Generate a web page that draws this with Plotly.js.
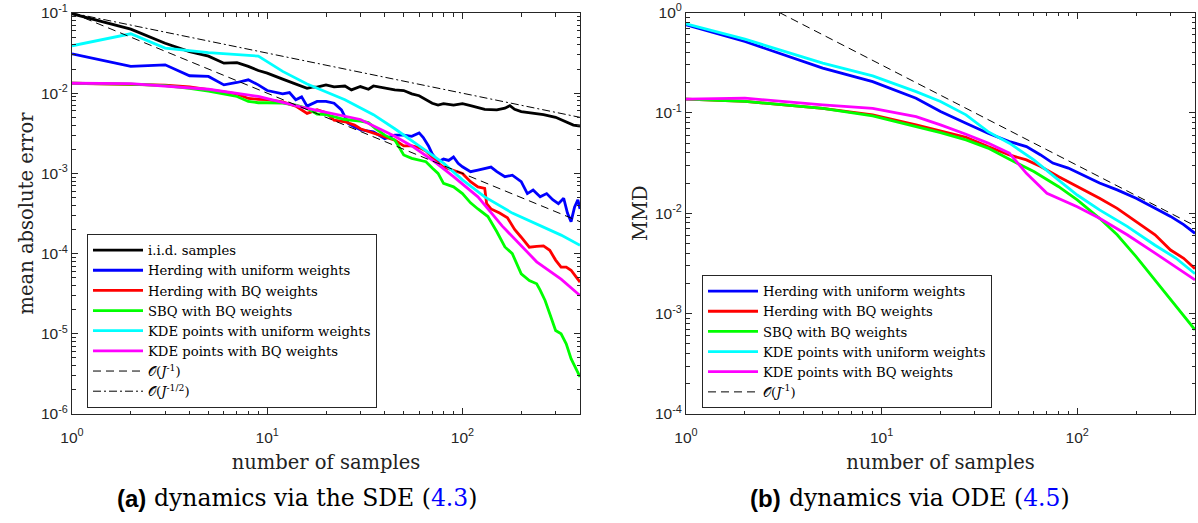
<!DOCTYPE html>
<html>
<head>
<meta charset="utf-8">
<script src="https://cdn.plot.ly/plotly-3.0.1.min.js"></script>
<style>html,body{margin:0;padding:0;background:#fff}#chart{width:1198px;height:523px}</style>
</head>
<body>
<div id="chart"></div>
<script>
// ---------- (a) SDE panel data ----------
const iidX = [1,2,3,4,5,6,7,8,9,10,12,14,16,17,18,20,22,25,27,30,33,35,40,45,50,55,60,65,70,75,80,90,100,110,120,130,150,165,175,185,200,230,260,300,340,370,400];
const iidY = [0.098,0.063,0.042,0.033,0.029,0.0237,0.024,0.0216,0.0192,0.0178,0.015,0.0131,0.0115,0.0119,0.0119,0.0127,0.012,0.0123,0.011,0.0121,0.0112,0.0123,0.0115,0.011,0.0108,0.0098,0.0093,0.0084,0.0075,0.0071,0.0074,0.0071,0.0074,0.007,0.0067,0.0063,0.0062,0.0065,0.007,0.0063,0.0059,0.0056,0.0054,0.005,0.0044,0.004,0.0039];

const herdUX = [1,2,3,4,5,6,7,8,9,10,12,13,14,15,16,18,20,22,24,26,28,30,35,40,45,50,55,60,63,67,70,75,80,85,90,95,100,110,120,130,140,150,165,180,200,215,230,250,270,290,310,330,345,360,375,390,400];
const herdUY = [0.031,0.0216,0.0226,0.0165,0.0162,0.0127,0.0136,0.0147,0.0127,0.0108,0.0098,0.0102,0.0083,0.009,0.0069,0.0079,0.0079,0.0075,0.0062,0.0042,0.0038,0.0035,0.0033,0.0027,0.003,0.003,0.0029,0.0032,0.0028,0.0022,0.00175,0.0014,0.00151,0.00145,0.0016,0.00134,0.00121,0.00105,0.0011,0.00115,0.0012,0.00105,0.00091,0.00095,0.00079,0.00056,0.00062,0.00051,0.00056,0.00047,0.00042,0.00049,0.00032,0.00025,0.00038,0.00047,0.00036];

const herdBX = [1,2,3,4,5,6,7,8,9,10,12,14,16,18,20,22,25,28,30,35,40,45,50,55,60,65,70,75,80,90,100,110,120,130,133,140,155,170,185,200,220,240,260,280,300,320,340,360,380,400];
const herdBY = [0.0133,0.013,0.0126,0.012,0.0112,0.0104,0.0098,0.0086,0.0084,0.0083,0.0078,0.0069,0.0056,0.0062,0.0057,0.0046,0.0044,0.004,0.0036,0.0032,0.0029,0.0026,0.0022,0.0022,0.0021,0.0019,0.0016,0.00134,0.0012,0.0011,0.001,0.00079,0.00068,0.00065,0.00042,0.00036,0.00032,0.00028,0.0002,0.00016,0.00012,0.000123,0.000125,0.00011,0.000083,0.000068,0.000068,0.000062,0.000051,0.000044];

const sbqX = [1,2,3,4,5,6,7,8,9,10,12,14,16,18,20,25,30,33,36,40,45,47,50,55,60,65,70,75,80,90,100,110,120,135,150,165,180,200,220,240,250,265,280,300,320,340,360,380,400];
const sbqY = [0.0133,0.013,0.0124,0.0115,0.0106,0.0098,0.0091,0.0079,0.0076,0.0076,0.0075,0.0071,0.0065,0.0055,0.0054,0.0047,0.0045,0.0043,0.0036,0.003,0.0026,0.0022,0.0017,0.00154,0.00147,0.0014,0.00117,0.001,0.00075,0.00068,0.00056,0.00043,0.00036,0.00029,0.000187,0.000121,0.0001,0.000056,0.000046,0.000042,0.000035,0.000026,0.0000178,0.000011,0.00001,0.0000075,0.0000049,0.0000038,0.0000029];

const kdeUX = [1,2,3,4,5,9,12,16,25,35,45,60,80,100,130,180,250,320,400];
const kdeUY = [0.039,0.055,0.0365,0.034,0.032,0.029,0.0187,0.013,0.0083,0.0054,0.0036,0.0022,0.00134,0.00083,0.00051,0.00032,0.00022,0.00017,0.000127];

const kdeBX = [1,2,5,9,15,30,45,55,70,90,120,160,240,320,400];
const kdeBY = [0.0133,0.0132,0.0112,0.0091,0.0067,0.0047,0.0029,0.0022,0.00147,0.00091,0.00051,0.00022,0.000079,0.000048,0.00003];

const rate1aX = [1,400];
const rate1aY = [0.1,0.00025];
const rateHalfX = [1,400];
const rateHalfY = [0.1,0.005];

// ---------- (b) ODE panel data ----------
const bHerdUX = [1,2,5,9,15,20,27,35,45,55,65,75,90,110,130,160,200,250,300,350,400];
const bHerdUY = [0.753,0.514,0.279,0.205,0.14,0.103,0.0789,0.0627,0.0518,0.0462,0.0381,0.0316,0.0282,0.0232,0.02,0.0171,0.0141,0.0112,0.0093,0.0077,0.0063];

const bKdeUX = [1,2,5,9,15,20,27,35,45,60,80,100,130,180,250,320,400];
const bKdeUY = [0.77,0.542,0.313,0.234,0.163,0.13,0.0955,0.065,0.0499,0.034,0.0215,0.0152,0.0108,0.0074,0.0048,0.00356,0.0025];

const bHerdBX = [1,2,5,9,15,20,27,35,45,55,65,80,100,130,160,200,250,300,350,400];
const bHerdBY = [0.137,0.13,0.111,0.0955,0.076,0.0667,0.0572,0.0462,0.0381,0.034,0.0292,0.0232,0.0185,0.0141,0.0112,0.0083,0.0061,0.0043,0.00356,0.0028];

const bSbqX = [1,2,5,9,15,20,27,35,45,60,80,100,130,160,200,250,300,350,400];
const bSbqY = [0.137,0.13,0.111,0.0934,0.073,0.0636,0.0538,0.0446,0.0345,0.026,0.0185,0.0136,0.0089,0.0061,0.0037,0.00217,0.00137,0.00097,0.00069];

const bKdeBX = [1,2,5,9,15,20,27,35,45,55,70,80,100,130,180,250,320,400];
const bKdeBY = [0.137,0.14,0.12,0.111,0.0919,0.076,0.0612,0.05,0.0397,0.025,0.0158,0.0141,0.0116,0.0089,0.0061,0.004,0.0029,0.00217];

const rate1bX = [3,400];
const rate1bY = [1,0.0075];

// ---------- names, titles & ticks ----------
const names = ["i.i.d. samples","Herding with uniform weights","Herding with BQ weights","SBQ with BQ weights","KDE points with uniform weights","KDE points with BQ weights","𝒪(<i>J</i><sup>-1</sup>)","𝒪(<i>J</i><sup>-1/2</sup>)"];
const capLabels = ["(a)", "(b)"];
const capTexts = ["dynamics via the SDE (<span style=\"color:#0000ff\">4.3</span>)", "dynamics via ODE (<span style=\"color:#0000ff\">4.5</span>)"];
const xTickVals = [1,10,100];
const xTickText = ["10<sup>0</sup>","10<sup>1</sup>","10<sup>2</sup>"];
const xMinorVals = [2,3,4,5,6,7,8,9,20,30,40,50,60,70,80,90,200,300];
const yaTickVals = [1e-6,1e-5,1e-4,1e-3,1e-2,1e-1];
const yaTickText = ["10<sup>-6</sup>","10<sup>-5</sup>","10<sup>-4</sup>","10<sup>-3</sup>","10<sup>-2</sup>","10<sup>-1</sup>"];
const yaMinorVals = [2e-6,3e-6,4e-6,5e-6,6e-6,7e-6,8e-6,9e-6,2e-5,3e-5,4e-5,5e-5,6e-5,7e-5,8e-5,9e-5,2e-4,3e-4,4e-4,5e-4,6e-4,7e-4,8e-4,9e-4,2e-3,3e-3,4e-3,5e-3,6e-3,7e-3,8e-3,9e-3,2e-2,3e-2,4e-2,5e-2,6e-2,7e-2,8e-2,9e-2];
const ybTickVals = [1e-4,1e-3,1e-2,1e-1,1];
const ybTickText = ["10<sup>-4</sup>","10<sup>-3</sup>","10<sup>-2</sup>","10<sup>-1</sup>","10<sup>0</sup>"];
const ybMinorVals = [2e-4,3e-4,4e-4,5e-4,6e-4,7e-4,8e-4,9e-4,2e-3,3e-3,4e-3,5e-3,6e-3,7e-3,8e-3,9e-3,2e-2,3e-2,4e-2,5e-2,6e-2,7e-2,8e-2,9e-2,0.2,0.3,0.4,0.5,0.6,0.7,0.8,0.9];

const colors = ['#000000','#0000ff','#ff0000','#00ff00','#00ffff','#ff00ff'];
const LW = 2.8;

function line(x, y, name, color, leg, xa, ya, dash, w) {
  return {x: x, y: y, name: name, type: 'scatter', mode: 'lines',
    line: {color: color, width: w || LW, dash: dash || 'solid'},
    legend: leg, xaxis: xa, yaxis: ya, hoverinfo: 'x+y+name'};
}

const traces = [
  line(iidX, iidY, names[0], colors[0], 'legend', 'x', 'y'),
  line(herdUX, herdUY, names[1], colors[1], 'legend', 'x', 'y'),
  line(herdBX, herdBY, names[2], colors[2], 'legend', 'x', 'y'),
  line(sbqX, sbqY, names[3], colors[3], 'legend', 'x', 'y'),
  line(kdeUX, kdeUY, names[4], colors[4], 'legend', 'x', 'y'),
  line(kdeBX, kdeBY, names[5], colors[5], 'legend', 'x', 'y'),
  line(rate1aX, rate1aY, names[6], '#000000', 'legend', 'x', 'y', '8px,5px', 1),
  line(rateHalfX, rateHalfY, names[7], '#000000', 'legend', 'x', 'y', '8px,3px,2px,3px', 1),
  line(bHerdUX, bHerdUY, names[1], colors[1], 'legend2', 'x2', 'y2'),
  line(bHerdBX, bHerdBY, names[2], colors[2], 'legend2', 'x2', 'y2'),
  line(bSbqX, bSbqY, names[3], colors[3], 'legend2', 'x2', 'y2'),
  line(bKdeUX, bKdeUY, names[4], colors[4], 'legend2', 'x2', 'y2'),
  line(bKdeBX, bKdeBY, names[5], colors[5], 'legend2', 'x2', 'y2'),
  line(rate1bX, rate1bY, names[6], '#000000', 'legend2', 'x2', 'y2', '8px,5px', 1)
];

const AX = '#262626';
const SERIF = "'DejaVu Serif', serif";
const SANS = "'Liberation Sans', Arial, sans-serif";
const tickFont = {family: SANS, size: 15.5, color: AX};
const titleFont = {family: SERIF, size: 19.5, color: '#222'};
function xAxis(domain, anchor) {
  return {type: 'log', domain: domain, anchor: anchor, range: [0, Math.log10(400)],
    tickmode: 'array', tickvals: xTickVals, ticktext: xTickText,
    ticks: 'inside', ticklen: 6, tickcolor: AX, tickwidth: 1, ticklabelstandoff: 9,
    minor: {tickmode: 'array', tickvals: xMinorVals, ticks: 'inside', ticklen: 3.5, tickcolor: AX, showgrid: false},
    showline: true, linecolor: AX, linewidth: 1, mirror: 'allticks',
    showgrid: false, zeroline: false, tickfont: tickFont,
    title: {text: 'number of samples', font: titleFont, standoff: 10}};
}
function yAxis(domain, anchor, range, tv, tt, mv, title) {
  return {type: 'log', domain: domain, anchor: anchor, range: range,
    tickmode: 'array', tickvals: tv, ticktext: tt,
    ticks: 'inside', ticklen: 6, tickcolor: AX, tickwidth: 1,
    minor: {tickmode: 'array', tickvals: mv, ticks: 'inside', ticklen: 3.5, tickcolor: AX, showgrid: false},
    showline: true, linecolor: AX, linewidth: 1, mirror: 'allticks',
    showgrid: false, zeroline: false, tickfont: tickFont,
    title: {text: title, font: titleFont, standoff: 2}};
}

const legFont = {family: SERIF, size: 13.2, color: '#000'};
const capY = 1 - 498/523;

const layout = {
  width: 1198, height: 523,
  margin: {l: 0, r: 0, t: 0, b: 0},
  paper_bgcolor: '#ffffff', plot_bgcolor: '#ffffff',
  showlegend: true,
  xaxis: xAxis([72/1198, 580/1198], 'y'),
  yaxis: yAxis([1 - 414/523, 1 - 13/523], 'x', [-6, -1], yaTickVals, yaTickText, yaMinorVals, 'mean absolute error'),
  xaxis2: xAxis([686/1198, 1195/1198], 'y2'),
  yaxis2: yAxis([1 - 414/523, 1 - 12.5/523], 'x2', [-4, 0], ybTickVals, ybTickText, ybMinorVals, 'MMD'),
  legend: {x: 87/1198, y: 1 - 234/523, xanchor: 'left', yanchor: 'top',
    bgcolor: '#ffffff', bordercolor: AX, borderwidth: 1, font: legFont,
    itemwidth: 50, tracegroupgap: 0, traceorder: 'normal'},
  legend2: {x: 702/1198, y: 1 - 275/523, xanchor: 'left', yanchor: 'top',
    bgcolor: '#ffffff', bordercolor: AX, borderwidth: 1, font: legFont,
    itemwidth: 50, tracegroupgap: 0, traceorder: 'normal'},
  annotations: [
    {xref: 'paper', yref: 'paper', x: 148/1198, y: capY, xanchor: 'right', yanchor: 'middle', showarrow: false,
     font: {family: SANS, size: 24, color: '#000', weight: 'bold'}, text: '<b>' + capLabels[0] + '</b>'},
    {xref: 'paper', yref: 'paper', x: 152/1198, y: capY, xanchor: 'left', yanchor: 'middle', showarrow: false,
     font: {family: SERIF, size: 23.5, color: '#000'}, text: capTexts[0]},
    {xref: 'paper', yref: 'paper', x: 783/1198, y: capY, xanchor: 'right', yanchor: 'middle', showarrow: false,
     font: {family: SANS, size: 24, color: '#000', weight: 'bold'}, text: '<b>' + capLabels[1] + '</b>'},
    {xref: 'paper', yref: 'paper', x: 787/1198, y: capY, xanchor: 'left', yanchor: 'middle', showarrow: false,
     font: {family: SERIF, size: 23.5, color: '#000'}, text: capTexts[1]}
  ]
};

Plotly.newPlot('chart', traces, layout, {displayModeBar: false, staticPlot: true});
</script>
</body>
</html>
